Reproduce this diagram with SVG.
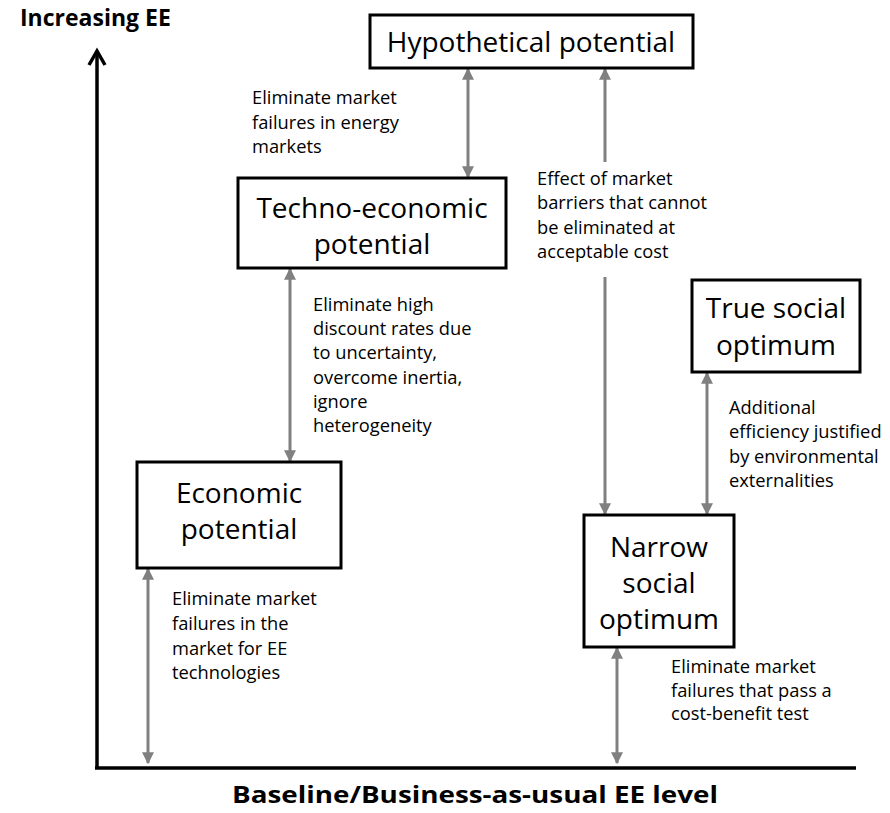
<svg xmlns="http://www.w3.org/2000/svg" width="890" height="813" viewBox="0 0 890 813">
<style>
.box{fill:#fff;stroke:#000;stroke-width:3}
.bt{font-family:"Open Sans","Liberation Sans",sans-serif;font-size:28px;fill:#000;text-anchor:middle}
.lt{font-family:"Open Sans","Liberation Sans",sans-serif;font-size:18.3px;fill:#000}
.ax{font-family:"Open Sans","Liberation Sans",sans-serif;font-size:23px;font-weight:bold;fill:#000}
.con{stroke:#808080;stroke-width:3;fill:none;marker-start:url(#ah);marker-end:url(#ah)}
</style>
<defs>
<marker id="ah" viewBox="0 0 10 10" refX="9" refY="5" markerWidth="4" markerHeight="4" orient="auto-start-reverse" markerUnits="strokeWidth">
<path d="M0,0 L10,5 L0,10 z" fill="#808080"/>
</marker>
</defs>
<rect width="890" height="813" fill="#fff"/>
<g id="axes">
<path d="M97,768 L97,52" stroke="#000" stroke-width="3.5" fill="none"/>
<path d="M89,65 L97,51 L105,65" stroke="#000" stroke-width="3.5" fill="none"/>
<path d="M95,768 L856,768" stroke="#000" stroke-width="3.5" fill="none"/>
<text class="ax" x="20" y="26">Increasing EE</text>
<text class="ax" x="232" y="803" font-size="26" textLength="486" lengthAdjust="spacingAndGlyphs">Baseline/Business-as-usual  EE level</text>
</g>
<g id="connectors">
<path class="con" d="M468,69 L468,177"/>
<path class="con" d="M605,69 L605,162 M605,277 L605,514"/>
<path class="con" d="M290,269 L290,461"/>
<path class="con" d="M707,373 L707,514"/>
<path class="con" d="M148,569 L148,763"/>
<path class="con" d="M617,648 L617,763"/>
</g>
<g id="hypothetical">
<rect class="box" x="370" y="15" width="323" height="53"/>
<text class="bt" x="531" y="52">Hypothetical potential</text>
</g>
<g id="techno">
<rect class="box" x="238" y="178" width="268" height="90"/>
<text class="bt" x="372" y="218">Techno-economic</text>
<text class="bt" x="372" y="254">potential</text>
</g>
<g id="economic">
<rect class="box" x="137" y="462" width="204" height="106"/>
<text class="bt" x="239" y="503">Economic</text>
<text class="bt" x="239" y="539">potential</text>
</g>
<g id="narrow">
<rect class="box" x="584" y="515" width="150" height="132"/>
<text class="bt" x="659" y="557">Narrow</text>
<text class="bt" x="659" y="593">social</text>
<text class="bt" x="659" y="629">optimum</text>
</g>
<g id="truesocial">
<rect class="box" x="692" y="280" width="168" height="92"/>
<text class="bt" x="776" y="318">True social</text>
<text class="bt" x="776" y="355">optimum</text>
</g>
<g id="labels">
<text class="lt"><tspan x="252" y="104">Eliminate market</tspan><tspan x="252" y="129">failures  in energy</tspan><tspan x="252" y="153">markets</tspan></text>
<text class="lt"><tspan x="537" y="185">Effect of market</tspan><tspan x="537" y="209">barriers that cannot</tspan><tspan x="537" y="234">be eliminated at</tspan><tspan x="537" y="258">acceptable cost</tspan></text>
<text class="lt"><tspan x="313" y="311">Eliminate high</tspan><tspan x="313" y="335">discount rates due</tspan><tspan x="313" y="359">to uncertainty,</tspan><tspan x="313" y="384">overcome inertia,</tspan><tspan x="313" y="408">ignore</tspan><tspan x="313" y="432">heterogeneity</tspan></text>
<text class="lt"><tspan x="729" y="414">Additional</tspan><tspan x="729" y="438">efficiency justified</tspan><tspan x="729" y="463">by environmental</tspan><tspan x="729" y="487">externalities</tspan></text>
<text class="lt"><tspan x="172" y="605">Eliminate market</tspan><tspan x="172" y="630">failures in the</tspan><tspan x="172" y="655">market for EE</tspan><tspan x="172" y="679">technologies</tspan></text>
<text class="lt"><tspan x="671" y="673">Eliminate market</tspan><tspan x="671" y="697">failures that pass a</tspan><tspan x="671" y="720">cost-benefit test</tspan></text>
</g>
</svg>
